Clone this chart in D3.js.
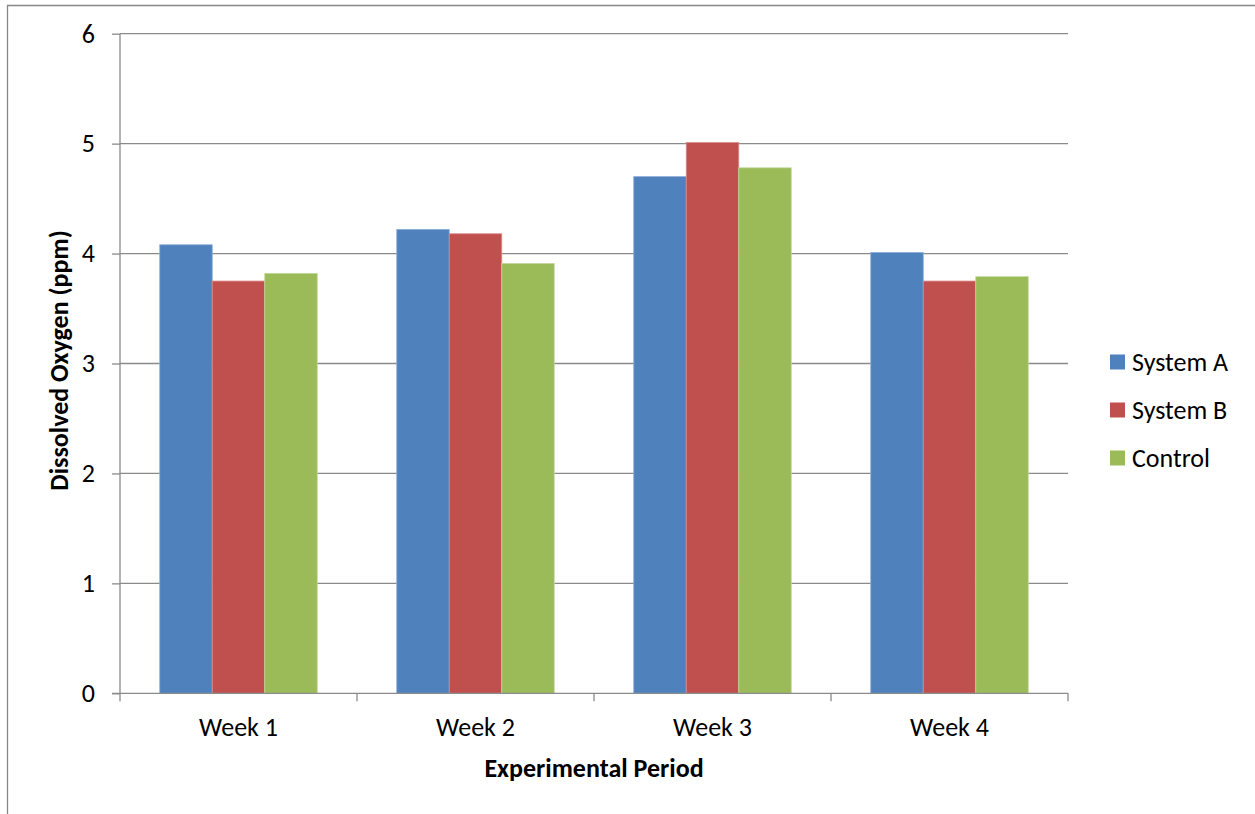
<!DOCTYPE html>
<html>
<head>
<meta charset="utf-8">
<script src="https://cdn.jsdelivr.net/npm/d3@7"></script>
<style>
  html, body { margin: 0; padding: 0; background: #fff; }
  svg { display: block; }
  text { font-family: Carlito, Lato, "Open Sans", sans-serif; fill: #000; }
</style>
</head>
<body>
<svg id="chart" width="1255" height="814"></svg>
<script>
// Dissolved oxygen readings (ppm) per week for each system
const weeks = ["Week 1", "Week 2", "Week 3", "Week 4"];
const seriesNames = ["System A", "System B", "Control"];
const systemA = [4.08, 4.22, 4.70, 4.01];
const systemB = [3.75, 4.18, 5.01, 3.75];
const control = [3.82, 3.91, 4.78, 3.79];
const yTicks = [0, 1, 2, 3, 4, 5, 6];
const colors = ["#4F81BD", "#C0504D", "#9BBB59"];
const strokes = ["#8EAEDA", "#D98A88", "#C3D99A"];

const seriesValues = [systemA, systemB, control];

const svg = d3.select("#chart");
const plot = { left: 120, right: 1068, top: 33.7, bottom: 693.3 };
const gridColor = "#8A8A8A";
const fontSize = 26;

// outer frame (top and left edges visible)
svg.append("path")
  .attr("d", "M7.5,814 L7.5,5.5 L1255,5.5")
  .attr("fill", "none")
  .attr("stroke", "#888")
  .attr("stroke-width", 1.3);

const x = d3.scaleBand().domain(weeks).range([plot.left, plot.right]).paddingInner(0).paddingOuter(0);
const xInner = d3.scaleBand().domain(seriesNames).range([0, x.bandwidth()]).paddingOuter(0.757).paddingInner(0);
const y = d3.scaleLinear().domain([0, 6]).range([plot.bottom, plot.top]);

// horizontal gridlines
svg.append("g")
  .selectAll("line")
  .data(yTicks.filter(d => d > 0))
  .join("line")
  .attr("x1", plot.left).attr("x2", plot.right)
  .attr("y1", d => y(d)).attr("y2", d => y(d))
  .attr("stroke", gridColor).attr("stroke-width", 1.3);

// bars
const rows = weeks.map((w, i) => ({ week: w, vals: seriesValues.map((s, j) => ({ name: seriesNames[j], v: s[i], j })) }));
svg.append("g")
  .selectAll("g")
  .data(rows)
  .join("g")
  .attr("transform", d => `translate(${x(d.week)},0)`)
  .selectAll("rect")
  .data(d => d.vals)
  .join("rect")
  .attr("x", d => xInner(d.name))
  .attr("width", xInner.bandwidth())
  .attr("y", d => y(d.v))
  .attr("height", d => y(0) - y(d.v))
  .attr("fill", d => colors[d.j])
  .attr("stroke", d => strokes[d.j])
  .attr("stroke-width", 0.8);

// y axis
const yAxis = d3.axisLeft(y).tickValues(yTicks).tickSize(8).tickPadding(17).tickFormat(d3.format("d"));
const gy = svg.append("g").attr("transform", `translate(${plot.left},0)`).call(yAxis);
gy.select(".domain").attr("stroke", gridColor).attr("stroke-width", 1.3).attr("d", `M0,${plot.top}V${plot.bottom}`);
gy.selectAll(".tick line").attr("stroke", gridColor).attr("stroke-width", 1.3);
gy.selectAll(".tick text").attr("font-size", fontSize).attr("font-family", "Carlito, Lato, sans-serif").attr("fill", "#000");

// x axis with ticks at category boundaries
const gx = svg.append("g").attr("transform", `translate(0,${plot.bottom})`);
gx.append("line").attr("x1", plot.left - 8).attr("x2", plot.right)
  .attr("stroke", gridColor).attr("stroke-width", 1.3);
const bounds = weeks.map(w => x(w)).concat([x(weeks[weeks.length - 1]) + x.bandwidth()]);
gx.selectAll("line.tk").data(bounds).join("line").attr("class", "tk")
  .attr("x1", d => d).attr("x2", d => d).attr("y1", 0).attr("y2", 8)
  .attr("stroke", gridColor).attr("stroke-width", 1.3);
gx.selectAll("text").data(weeks).join("text")
  .attr("x", d => x(d) + x.bandwidth() / 2)
  .attr("y", 43)
  .attr("text-anchor", "middle")
  .attr("font-size", fontSize)
  .text(d => d);

// axis titles
svg.append("text")
  .attr("x", (plot.left + plot.right) / 2)
  .attr("y", 777)
  .attr("text-anchor", "middle")
  .attr("font-size", fontSize)
  .attr("font-weight", "bold")
  .text("Experimental Period");

svg.append("text")
  .attr("transform", `translate(68,${(plot.top + plot.bottom) / 2 - 3}) rotate(-90)`)
  .attr("text-anchor", "middle")
  .attr("font-size", fontSize)
  .attr("font-weight", "bold")
  .text("Dissolved Oxygen (ppm)");

// legend
const legend = svg.append("g").selectAll("g").data(seriesNames).join("g")
  .attr("transform", (d, i) => `translate(1110,${362 + i * 48})`);
legend.append("rect").attr("x", 0).attr("y", -7.5).attr("width", 15).attr("height", 15)
  .attr("fill", (d, i) => colors[i]);
legend.append("text").attr("x", 22).attr("y", 9).attr("font-size", fontSize).text(d => d);
</script>
</body>
</html>
